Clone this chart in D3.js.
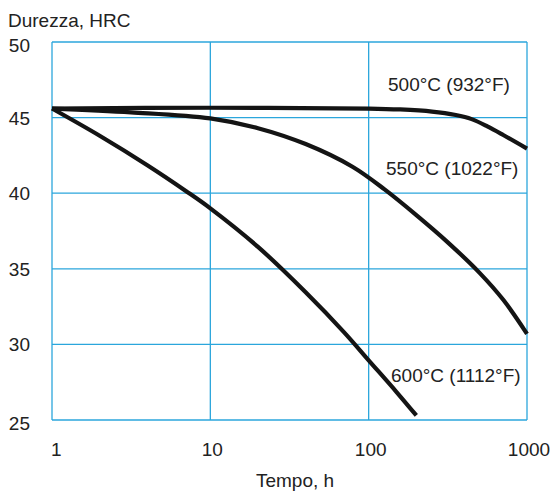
<!DOCTYPE html>
<html>
<head>
<meta charset="utf-8">
<script src="https://cdn.jsdelivr.net/npm/d3@7"></script>
<style>
    body { margin: 0; background: #fff; }
    text { font-family: "Liberation Sans", Arial, Helvetica, sans-serif; font-size: 19px; fill: #222; }
</style>
</head>
<body>
<script>
// hardness vs tempering time
var hours500 = [1, 10, 100, 158, 251, 355, 447, 562, 708, 1000];
var hrc500 = [45.6, 45.65, 45.6, 45.54, 45.4, 45.17, 44.9, 44.42, 43.85, 42.95];
var hours550 = [1, 3.16, 10, 20, 40, 79, 126, 200, 316, 500, 708, 1000];
var hrc550 = [45.6, 45.35, 44.95, 44.3, 43.25, 41.75, 40.25, 38.55, 36.75, 34.75, 32.95, 30.7];
var hours600 = [1, 2, 4, 7, 10, 20, 40, 70, 100, 150, 200];
var hrc600 = [45.6, 43.8, 41.85, 40.15, 39.0, 36.45, 33.45, 30.8, 28.95, 26.85, 25.3];
var seriesLabels = ["500°C (932°F)", "550°C (1022°F)", "600°C (1112°F)"];
var xTicks = [1, 10, 100, 1000];
var yTicks = [25, 30, 35, 40, 45, 50];

var margin = {top: 42, right: 25, bottom: 72, left: 52},
    width = 552 - margin.left - margin.right,
    height = 492 - margin.top - margin.bottom;
var gridColor = "#2ba6dc";

var svg = d3.select("body").append("svg")
    .attr("width", 552)
    .attr("height", 492);
var g = svg.append("g")
    .attr("transform", "translate(" + margin.left + "," + margin.top + ")");

var x = d3.scaleLog().domain([1, 1000]).range([0, width]);
var y = d3.scaleLinear().domain([25, 50]).range([height, 0]);

// grid + frame
g.append("g").selectAll("line")
    .data(xTicks)
    .enter().append("line")
    .attr("x1", function (d) { return x(d); })
    .attr("x2", function (d) { return x(d); })
    .attr("y1", 0)
    .attr("y2", height)
    .attr("stroke", gridColor)
    .attr("stroke-width", 1.3);
g.append("g").selectAll("line")
    .data(yTicks)
    .enter().append("line")
    .attr("x1", 0)
    .attr("x2", width)
    .attr("y1", function (d) { return y(d); })
    .attr("y2", function (d) { return y(d); })
    .attr("stroke", gridColor)
    .attr("stroke-width", 1.3);

// tick labels
g.append("g").selectAll("text")
    .data(yTicks)
    .enter().append("text")
    .attr("x", -22)
    .attr("y", function (d) { return y(d) + ((d === 50 || d === 25) ? 10 : 7); })
    .attr("text-anchor", "end")
    .text(function (d) { return d; });
g.append("g").selectAll("text")
    .data(xTicks)
    .enter().append("text")
    .attr("x", function (d) { return d === 1 ? x(d) - 1 : x(d) + 2; })
    .attr("y", height + 36)
    .attr("text-anchor", function (d) { return d === 1 ? "start" : "middle"; })
    .text(function (d) { return d; });

svg.append("text")
    .attr("x", 8)
    .attr("y", 27)
    .text("Durezza, HRC");
svg.append("text")
    .attr("x", 295)
    .attr("y", 487)
    .attr("text-anchor", "middle")
    .text("Tempo, h");

// curves
var line = d3.line()
    .x(function (d) { return x(d[0]); })
    .y(function (d) { return y(d[1]); })
    .curve(d3.curveCatmullRom.alpha(0.5));

var series = [
    d3.zip(hours500, hrc500),
    d3.zip(hours550, hrc550),
    d3.zip(hours600, hrc600)
];
g.append("g").selectAll("path")
    .data(series)
    .enter().append("path")
    .attr("d", line)
    .attr("fill", "none")
    .attr("stroke", "#141414")
    .attr("stroke-width", 4.2);

// curve labels
var labelPos = [[388, 91], [386, 175], [391, 382]];
svg.append("g").selectAll("text")
    .data(seriesLabels)
    .enter().append("text")
    .attr("x", function (d, i) { return labelPos[i][0]; })
    .attr("y", function (d, i) { return labelPos[i][1]; })
    .text(function (d) { return d; });
</script>
</body>
</html>
